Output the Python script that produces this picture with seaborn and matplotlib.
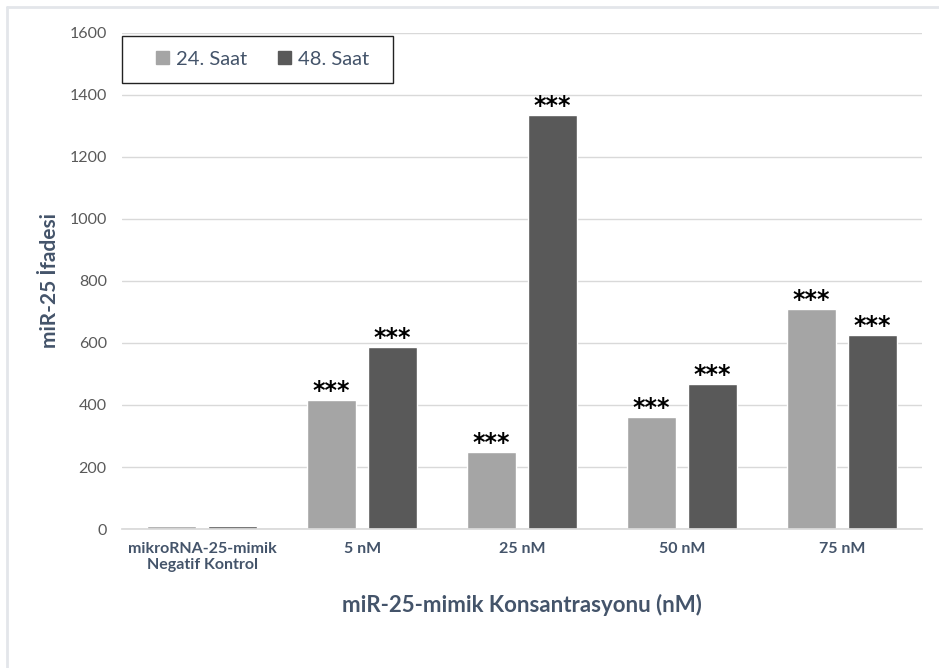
import matplotlib
matplotlib.use("Agg")
import matplotlib.pyplot as plt
import matplotlib.patches as mpatches
from matplotlib.lines import Line2D
import seaborn as sns
import pandas as pd

categories = ["mikroRNA-25-mimik\nNegatif Kontrol", "5 nM", "25 nM", "50 nM", "75 nM"]
series_names = ["24. Saat", "48. Saat"]
values_24h = [10, 416, 248, 361, 710]
values_48h = [10, 587, 1335, 468, 626]
significance = ["", "***", "***", "***", "***"]
y_ticks = [0, 200, 400, 600, 800, 1000, 1200, 1400, 1600]

df = pd.DataFrame({
    "Konsantrasyon": categories * 2,
    "Ifade": values_24h + values_48h,
    "Zaman": [series_names[0]] * len(categories) + [series_names[1]] * len(categories),
})

sns.set_theme(style="white")
plt.rcParams["font.family"] = ["Lato", "DejaVu Sans"]

text_col = "#44546A"
tick_col = "#595959"
palette = {series_names[0]: "#A5A5A5", series_names[1]: "#595959"}

fig = plt.figure(figsize=(9.39, 6.68), dpi=100)
ax = fig.add_axes([0.130, 0.208, 0.852, 0.743])

sns.barplot(data=df, x="Konsantrasyon", y="Ifade", hue="Zaman",
            order=categories, hue_order=series_names, palette=palette,
            width=0.76, gap=0.2, saturation=1, ax=ax, legend=True)

ax.set_ylim(0, 1600)
ax.set_yticks(y_ticks)
ax.set_yticklabels([str(t) for t in y_ticks], fontsize=11.5, color=tick_col)
ax.set_xlim(-0.5, len(categories) - 0.5)
ax.yaxis.grid(True, color="#D9D9D9", linewidth=1)
ax.set_axisbelow(True)
for side in ["top", "right", "left"]:
    ax.spines[side].set_visible(False)
ax.spines["bottom"].set_color("#D9D9D9")
ax.tick_params(axis="x", length=0, pad=9)
ax.tick_params(axis="y", length=0, pad=11)

for lbl in ax.get_xticklabels():
    lbl.set_fontsize(11.5)
    lbl.set_fontweight("bold")
    lbl.set_color(text_col)

ax.set_xlabel("miR-25-mimik Konsantrasyonu (nM)", fontsize=16, fontweight="bold",
              color=text_col, labelpad=16)
ax.set_ylabel("miR-25 İfadesi", fontsize=15, fontweight="bold", color=text_col,
              labelpad=7)

# significance stars over each bar
for container, vals in zip(ax.containers, [values_24h, values_48h]):
    for bar, v, s in zip(container, vals, significance):
        if s:
            ax.annotate(s, (bar.get_x() + bar.get_width() / 2, v),
                        xytext=(0, -2), textcoords="offset points",
                        ha="center", va="bottom", fontsize=17,
                        fontweight="bold", color="black",
                        family="DejaVu Sans")

# legend box with the entries centred inside it
box_x0, box_x1, box_y0, box_y1 = 0.0, 0.339, 0.899, 0.994
ax.add_patch(mpatches.Rectangle((box_x0, box_y0), box_x1 - box_x0, box_y1 - box_y0,
                                transform=ax.transAxes, facecolor="white",
                                edgecolor="#222222", linewidth=1.0, zorder=5,
                                clip_on=False))
handles = [mpatches.Patch(color=palette[n]) for n in series_names]
leg = ax.legend(handles, series_names, loc="center", ncol=2,
                bbox_to_anchor=((box_x0 + box_x1) / 2 + 0.006, (box_y0 + box_y1) / 2),
                borderaxespad=0, frameon=False,
                fontsize=14.5, handlelength=0.65, handleheight=0.65,
                handletextpad=0.35, columnspacing=1.5, borderpad=0,
                labelcolor=text_col)
leg.set_zorder(6)

# light frame along the left and top edges of the chart area
fig.add_artist(Line2D([0.0075, 0.0075], [0.0, 0.990], transform=fig.transFigure,
                      color="#E3E6EA", linewidth=2))
fig.add_artist(Line2D([0.0075, 1.0], [0.990, 0.990], transform=fig.transFigure,
                      color="#E3E6EA", linewidth=2))

fig.savefig("out.png", dpi=100, facecolor="white")
